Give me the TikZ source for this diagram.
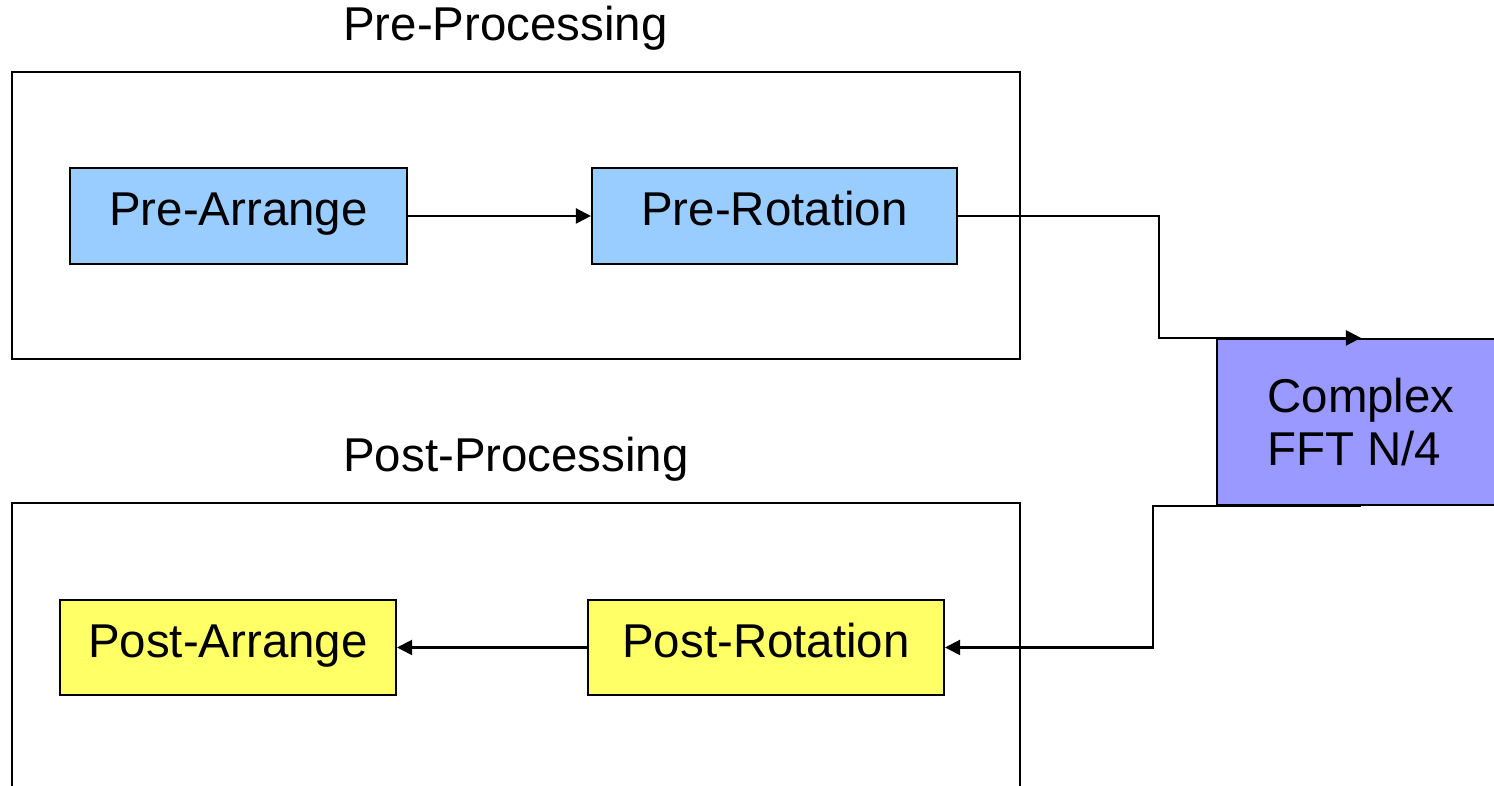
\documentclass[tikz,border=0pt]{standalone}
\usepackage{fontspec}
\setmainfont{Liberation Sans}
\usepackage{xcolor}
\definecolor{preblue}{RGB}{153,204,255}
\definecolor{fftviolet}{RGB}{153,153,255}
\definecolor{postyellow}{RGB}{255,255,102}
\usepackage{tikz}
\usetikzlibrary{arrows.meta,positioning}
\tikzset{
  stagebox/.style={rectangle, draw=black, line width=0.6pt, inner sep=0pt,
                   minimum height=0.96cm, font=\fontsize{13.5}{15}\selectfont},
  rowbox/.style={stagebox, text height=9.7pt, text depth=4pt},
  groupbox/.style={draw=black, line width=0.6pt},
  grouptitle/.style={font=\fontsize{13.5}{15}\selectfont, inner sep=0pt},
  flow/.style={-{Triangle[length=4.3pt,width=4.3pt]}, line width=0.6pt},
}

\begin{document}
\begin{tikzpicture}
  \useasboundingbox (0,0) rectangle (14.94,7.86);
  \clip (0,0) rectangle (14.94,7.86);

  % pre-processing group
  \node[grouptitle] (pretitle) at (5.055,7.58) {Pre-Processing};
  \draw[groupbox] (0.12,4.27) rectangle (10.20,7.14);
  \node[rowbox, fill=preblue, minimum width=3.37cm] (prearr) at (2.385,5.70) {Pre-Arrange};
  \node[rowbox, fill=preblue, minimum width=3.65cm] (prerot) at (7.745,5.70) {Pre-Rotation};

  % FFT core
  \node[stagebox, fill=fftviolet, minimum width=2.88cm, minimum height=1.66cm,
        align=left] (fft) at (13.61,3.64) {Complex\\FFT N/4};

  % post-processing group
  \node[grouptitle] (posttitle) at (5.16,3.27) {Post-Processing};
  \draw[groupbox] (0.12,2.83) rectangle (10.20,-0.5);
  \node[rowbox, fill=postyellow, minimum width=3.36cm, minimum height=0.95cm] (postarr) at (2.28,1.385) {Post-Arrange};
  \node[rowbox, fill=postyellow, minimum width=3.56cm, minimum height=0.95cm] (postrot) at (7.66,1.385) {Post-Rotation};

  % data flow
  \draw[flow] (prearr) -- (prerot);
  \draw[flow] (prerot.east) -- ++(2.01,0) |- (fft.north);
  \draw[flow] (fft.south) -- ++(-2.08,0) |- (postrot.east);
  \draw[flow] (postrot) -- (postarr);
\end{tikzpicture}
\end{document}
